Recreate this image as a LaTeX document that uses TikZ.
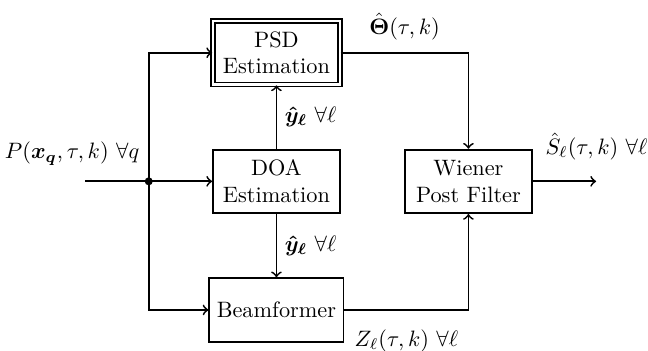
\documentclass[tikz,border=0pt]{standalone}
\usepackage{amsmath,bm}
\usepackage{tikz}
\usetikzlibrary{positioning,calc}
\usetikzlibrary{arrows}
\tikzset{
  blk/.style={rectangle, minimum width=2cm, minimum height=1cm, text centered, align=center, draw=black},
  dblk/.style={blk, double, double distance=1pt},
  node distance=1cm
}

\begin{document}
\begin{tikzpicture}[thick]
	\useasboundingbox (-4.36,-2.67) rectangle (5.86,2.86);
	\node[blk] (doa) {DOA\\Estimation};
	\node[dblk, above=of doa] (psd) {PSD\\Estimation};
	\node[blk, below=of doa] (bf) {Beamformer};
	\node[blk, right=of doa] (wpf) {Wiener\\Post Filter};
	\coordinate[left=of doa] (jn);
	\coordinate[left=of jn] (in);
	\coordinate[right=of wpf] (out);
	%
	\draw[->] (in) -- (doa);
	\fill (jn) circle (1.8pt);
	\node[above left=3.5pt and 0.5pt] at (jn) (inlabel) {$P(\bm{x_q},\tau,k)\ \forall q$};
	\draw[->] (jn) |- (psd);
	\draw[->] (jn) |- (bf);
	\draw[->] (doa) -- node[right] {$\bm{\hat{y}_\ell}\ \forall\ell$} (psd);
	\draw[->] (doa) -- node[right] {$\bm{\hat{y}_\ell}\ \forall\ell$} (bf);
	\draw[->] (psd) -| node[pos=0.25, above=2pt] {$\hat{\bm{\Theta}}(\tau,k)$} (wpf);
	\draw[->] (bf) -| node[pos=0.25, below=5pt] {$Z_\ell(\tau,k)\ \forall\ell$} (wpf);
	\draw[->] (wpf) -- node[pos=0, above right=6pt and 2pt] {$\hat{S}_\ell(\tau,k)\ \forall\ell$} (out);
\end{tikzpicture}
\end{document}
